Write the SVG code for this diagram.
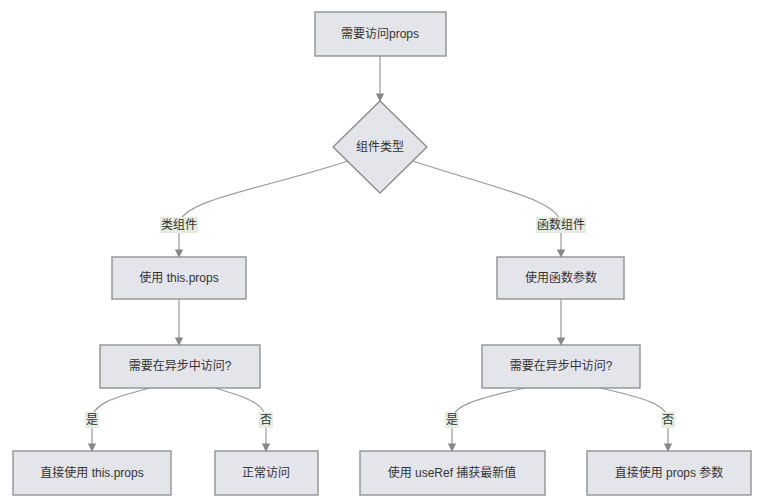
<svg xmlns="http://www.w3.org/2000/svg" width="764" height="500" viewBox="0 0 764 500">
<defs>
<style>
.n{fill:#e3e5ea;stroke:#8a8a8a;stroke-width:1.3}
.t{font-family:"Liberation Sans","Noto Sans CJK SC",sans-serif;font-size:12px;fill:#333;text-anchor:middle;dominant-baseline:central}
.c{fill:none;stroke:#999;stroke-width:1.2;marker-end:url(#a)}
.lb{fill:#e4ede0}
</style>
<marker id="a" viewBox="0 0 10 10" refX="9" refY="5" markerWidth="7" markerHeight="7" orient="auto"><path d="M0,0L10,5L0,10z" fill="#888"/></marker>
</defs>
<rect width="764" height="500" fill="#fff"/>
<g id="connectors">
<path class="c" d="M380,56V101"/>
<path class="c" d="M348,161C260,190 179,200 179,225V257"/>
<path class="c" d="M413,161C500,190 561,200 561,225V257"/>
<path class="c" d="M179,299V345"/>
<path class="c" d="M561,299V345"/>
<path class="c" d="M150,388C110,398 92,405 92,420V451"/>
<path class="c" d="M215,388C250,398 266,405 266,420V451"/>
<path class="c" d="M525,388C480,398 452,405 452,420V451"/>
<path class="c" d="M600,388C645,398 668,405 668,420V451"/>
</g>
<g id="labels">
<rect class="lb" x="160" y="217" width="38" height="16"/><text class="t" x="179" y="225">类组件</text>
<rect class="lb" x="536" y="217" width="50" height="16"/><text class="t" x="561" y="225">函数组件</text>
<rect class="lb" x="85" y="412" width="14" height="16"/><text class="t" x="92" y="420">是</text>
<rect class="lb" x="259" y="412" width="14" height="16"/><text class="t" x="266" y="420">否</text>
<rect class="lb" x="445" y="412" width="14" height="16"/><text class="t" x="452" y="420">是</text>
<rect class="lb" x="661" y="412" width="14" height="16"/><text class="t" x="668" y="420">否</text>
</g>
<g id="n1"><rect class="n" x="315" y="12" width="131" height="44"/><text class="t" x="380" y="34">需要访问props</text></g>
<g id="n2"><path class="n" d="M380,101L427,147L380,193L333,147z"/><text class="t" x="380" y="147">组件类型</text></g>
<g id="n3"><rect class="n" x="112" y="257" width="134" height="42"/><text class="t" x="179" y="278">使用 this.props</text></g>
<g id="n4"><rect class="n" x="497" y="257" width="127" height="42"/><text class="t" x="561" y="278">使用函数参数</text></g>
<g id="n5"><rect class="n" x="100" y="345" width="160" height="43"/><text class="t" x="180" y="366">需要在异步中访问?</text></g>
<g id="n6"><rect class="n" x="482" y="345" width="158" height="43"/><text class="t" x="561" y="366">需要在异步中访问?</text></g>
<g id="n7"><rect class="n" x="13" y="451" width="158" height="44"/><text class="t" x="92" y="473">直接使用 this.props</text></g>
<g id="n8"><rect class="n" x="215" y="451" width="103" height="44"/><text class="t" x="266" y="473">正常访问</text></g>
<g id="n9"><rect class="n" x="360" y="451" width="185" height="44"/><text class="t" x="452" y="473">使用 useRef 捕获最新值</text></g>
<g id="n10"><rect class="n" x="587" y="451" width="164" height="44"/><text class="t" x="669" y="473">直接使用 props 参数</text></g>
</svg>
